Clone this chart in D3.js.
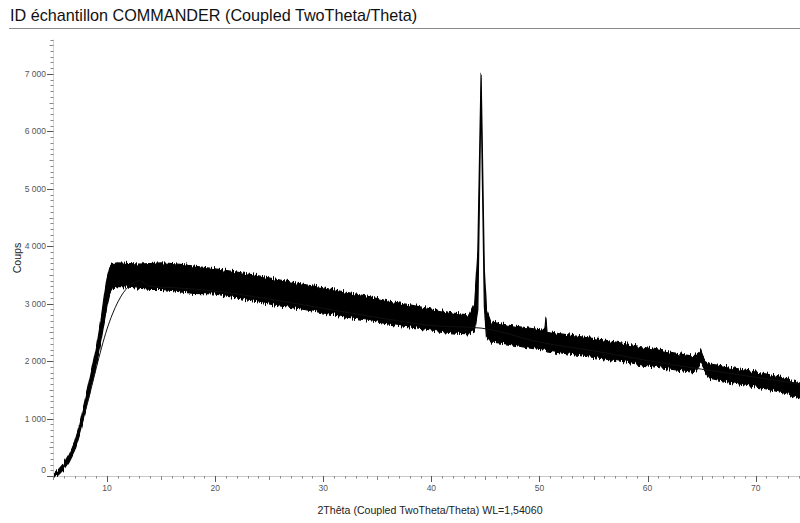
<!DOCTYPE html>
<html>
<head>
<meta charset="utf-8">
<script src="https://cdn.jsdelivr.net/npm/d3@7"></script>
<style>
  body { margin: 0; background: #fff; }
  svg text { font-family: "Liberation Sans", Arial, sans-serif; }
</style>
</head>
<body>
<svg id="chart" width="800" height="523"></svg>
<script>
// Measured pattern: 2θ positions with the upper and lower edge of the noisy count band
const twoTheta = [5.15, 5.5, 6.0, 6.5, 7.0, 7.5, 8.0, 8.5, 9.0, 9.5, 9.75, 10.0, 10.25, 10.5, 11, 12, 13, 14, 15, 16, 17, 18, 20, 22, 24, 26, 28, 30, 32, 34, 36, 38, 40, 42, 43.5, 44.0, 44.3, 44.5, 44.6, 44.7, 44.9, 45.1, 45.5, 47, 49, 50.5, 50.6, 50.7, 52, 54, 56, 58, 60, 62, 64, 64.5, 64.7, 64.9, 65.1, 65.3, 65.8, 67, 69, 71, 73, 74.1];
const countsUpper = [60, 110, 220, 380, 600, 920, 1330, 1760, 2220, 2800, 3150, 3450, 3640, 3700, 3710, 3700, 3690, 3700, 3710, 3700, 3680, 3655, 3605, 3552, 3483, 3413, 3343, 3274, 3204, 3134, 3047, 2978, 2908, 2838, 2800, 3000, 3900, 6000, 6982, 5900, 3600, 2891, 2682, 2629, 2577, 2530, 2751, 2520, 2473, 2420, 2368, 2299, 2229, 2159, 2090, 2110, 2140, 2177, 2080, 2010, 1950, 1915, 1846, 1776, 1689, 1619];
const countsLower = [0, 20, 120, 260, 450, 760, 1130, 1520, 1940, 2420, 2700, 2980, 3180, 3260, 3300, 3290, 3270, 3250, 3250, 3230, 3200, 3180, 3169, 3100, 3030, 2960, 2908, 2838, 2769, 2716, 2647, 2595, 2542, 2490, 2473, 2530, 2900, 5500, 6700, 5400, 2950, 2420, 2333, 2299, 2229, 2190, 2190, 2180, 2142, 2090, 2037, 1985, 1915, 1863, 1811, 1830, 1900, 1985, 1900, 1830, 1700, 1654, 1585, 1515, 1428, 1358];

// Fitted background curve
const bgTwoTheta = [8.0, 8.5, 9.0, 9.5, 10.0, 10.5, 11.0, 11.5, 12.0, 12.5, 13.0, 14, 16, 20, 25, 30, 35, 40, 44.6, 50, 55, 60, 65, 70, 74.1];
const bgCounts = [1130, 1500, 1880, 2240, 2560, 2820, 3030, 3190, 3300, 3370, 3400, 3300, 3280, 3220, 3080, 2920, 2760, 2620, 2575, 2330, 2180, 2010, 1860, 1720, 1600];

const xTickValues = [10, 20, 30, 40, 50, 60, 70];
const yTickValues = [0, 1000, 2000, 3000, 4000, 5000, 6000, 7000];

const titleText = "ID échantillon COMMANDER (Coupled TwoTheta/Theta)";
const xLabel = "2Thêta (Coupled TwoTheta/Theta) WL=1,54060";
const yLabel = "Coups";

const svg = d3.select("#chart");

const x = d3.scaleLinear().domain([5, 74.1]).range([53, 800]);
const y = d3.scaleLinear().domain([0, 7600]).range([476, 39.5]);

const fr = d3.formatLocale({ decimal: ",", thousands: "\u00a0", grouping: [3], currency: ["", ""] });
const fmt = fr.format(",");

// Column-wise jitter that gives the count band its ragged, noisy edge
const defs = svg.append("defs");
const grain = defs.append("filter")
  .attr("id", "grain")
  .attr("filterUnits", "userSpaceOnUse")
  .attr("x", 0).attr("y", 0).attr("width", 800).attr("height", 523);
grain.append("feTurbulence")
  .attr("type", "fractalNoise")
  .attr("baseFrequency", "0.9 0.004")
  .attr("numOctaves", 2)
  .attr("seed", 3)
  .attr("result", "n");
grain.append("feColorMatrix")
  .attr("in", "n")
  .attr("type", "matrix")
  .attr("values", "1 0 0 0 0  0 0 0 0 0.5  0 0 0 0 0  0 0 0 0 1")
  .attr("result", "m");
grain.append("feDisplacementMap")
  .attr("in", "SourceGraphic")
  .attr("in2", "m")
  .attr("scale", 8)
  .attr("xChannelSelector", "G")
  .attr("yChannelSelector", "R");

// Title and its rule
svg.append("text")
  .attr("x", 10).attr("y", 21)
  .attr("font-size", 16.2)
  .attr("fill", "#111")
  .text(titleText);
svg.append("line")
  .attr("x1", 9).attr("x2", 800)
  .attr("y1", 28.5).attr("y2", 28.5)
  .attr("stroke", "#8a8a8a").attr("stroke-width", 1);

// Y axis: minor ticks every 100, medium every 500, labelled every 1000
const yAxisG = svg.append("g").attr("transform", "translate(53,0)");
yAxisG.append("line")
  .attr("x1", 0.5).attr("x2", 0.5)
  .attr("y1", y(7600)).attr("y2", y(0))
  .attr("stroke", "#d4d4d4");
const yMinor = d3.range(0, 7601, 100);
yAxisG.selectAll("line.tk").data(yMinor).join("line")
  .attr("class", "tk")
  .attr("x1", d => d % 1000 === 0 ? -6 : (d % 500 === 0 ? -3.5 : -2.5))
  .attr("x2", 0.5)
  .attr("y1", d => Math.round(y(d)) + 0.5)
  .attr("y2", d => Math.round(y(d)) + 0.5)
  .attr("stroke", d => d % 1000 === 0 ? "#555" : "#888")
  .attr("stroke-width", 1);
yAxisG.selectAll("text").data(yTickValues).join("text")
  .attr("x", -7)
  .attr("y", d => d === 0 ? y(d) - 3 : y(d) + 3)
  .attr("text-anchor", "end")
  .attr("font-size", 8.5)
  .attr("fill", "#555")
  .text(d => fmt(d));

// X axis: minor ticks every degree, medium every 5, labelled every 10
const xAxisG = svg.append("g").attr("transform", "translate(0,476)");
xAxisG.append("line")
  .attr("x1", x(5)).attr("x2", 800)
  .attr("y1", 0.5).attr("y2", 0.5)
  .attr("stroke", "#c8c8c8");
const xMinor = d3.range(5, 75, 1).filter(d => x(d) <= 800);
xAxisG.selectAll("line.tk").data(xMinor).join("line")
  .attr("class", "tk")
  .attr("x1", d => Math.round(x(d)) + 0.5)
  .attr("x2", d => Math.round(x(d)) + 0.5)
  .attr("y1", 0)
  .attr("y2", d => d % 10 === 0 ? 6 : (d % 5 === 0 ? 4 : 2.5))
  .attr("stroke", d => d % 10 === 0 ? "#555" : "#888");
xAxisG.selectAll("text").data(xTickValues).join("text")
  .attr("x", d => x(d))
  .attr("y", 15)
  .attr("text-anchor", "middle")
  .attr("font-size", 8.5)
  .attr("fill", "#555")
  .text(d => d);

// Axis titles
svg.append("text")
  .attr("x", 430).attr("y", 514)
  .attr("text-anchor", "middle")
  .attr("font-size", 10.6)
  .attr("fill", "#222")
  .text(xLabel);
svg.append("text")
  .attr("transform", "translate(21,258) rotate(-90)")
  .attr("text-anchor", "middle")
  .attr("font-size", 10.6)
  .attr("fill", "#222")
  .text(yLabel);

// Measured count band
const band = twoTheta.map((t, i) => ({ t, hi: countsUpper[i], lo: countsLower[i] }));
const area = d3.area()
  .x(d => x(d.t))
  .y0(d => y(d.lo))
  .y1(d => y(d.hi));
svg.append("path")
  .datum(band)
  .attr("d", area)
  .attr("fill", "#000")
  .attr("stroke", "#000")
  .attr("stroke-width", 1.2)
  .attr("stroke-linejoin", "round")
  .attr("filter", "url(#grain)");

// Background curve
const bg = bgTwoTheta.map((t, i) => ({ t, v: bgCounts[i] }));
const line = d3.line()
  .x(d => x(d.t))
  .y(d => y(d.v))
  .curve(d3.curveMonotoneX);
svg.append("path")
  .datum(bg)
  .attr("d", line)
  .attr("fill", "none")
  .attr("stroke", "#111")
  .attr("stroke-width", 1);
</script>
</body>
</html>
